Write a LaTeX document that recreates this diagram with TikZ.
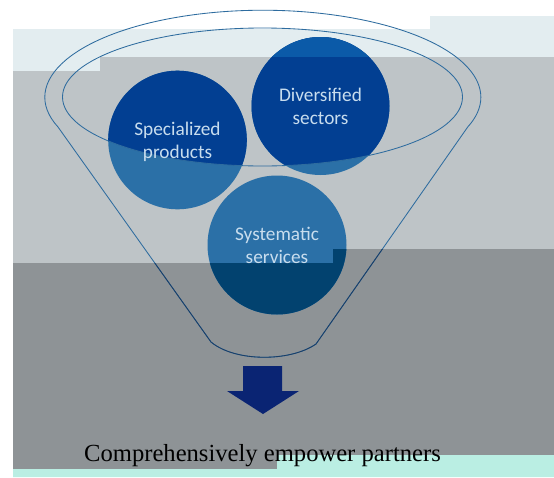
\documentclass[tikz,border=0pt]{standalone}
\usepackage{fontspec}
\setmainfont{Liberation Serif}
\newfontfamily\calib{Carlito}
\definecolor{cyanband}{HTML}{E3EDF0}
\definecolor{greyband}{HTML}{BEC4C7}
\definecolor{darkband}{HTML}{8E9396}
\definecolor{mintband}{HTML}{BAEEE3}
\definecolor{midblue}{HTML}{2B70A7}
\definecolor{deepblue}{HTML}{02426F}
\definecolor{navyblue}{HTML}{023F92}
\definecolor{brightblue}{HTML}{0B5AA8}
\definecolor{lbltext}{HTML}{C8DDEE}
\definecolor{linelight}{HTML}{2E6C9F}
\definecolor{linedark}{HTML}{1B3E66}
\definecolor{arrowblue}{HTML}{0A2473}
\begin{document}
\begin{tikzpicture}[x=1pt,y=-1pt,
  outline/.style={draw=linelight, line width=0.85pt},
  outlinedark/.style={draw=linedark, line width=0.85pt},
  lbl/.style={circle, minimum size=139pt, inner sep=0pt, text=lbltext,
    font=\calib\fontsize{19.3}{22.5}\selectfont},
  caption/.style={anchor=base west, inner sep=0pt, text=black,
    font=\fontsize{24.6}{29}\selectfont}]
\useasboundingbox (0,0) rectangle (554,477);
\fill[white] (0,0) rectangle (554,477);
% background bands
\fill[cyanband] (13,29) -- (430,29) -- (430,16) -- (554,16) -- (554,57) -- (100,57) -- (100,71) -- (13,71) -- cycle;
\fill[greyband] (13,71) -- (100,71) -- (100,57) -- (554,57) -- (554,249) -- (333,249) -- (333,263) -- (13,263) -- cycle;
\fill[darkband] (13,263) -- (333,263) -- (333,249) -- (554,249) -- (554,455) -- (277,455) -- (277,469) -- (13,469) -- cycle;
\fill[mintband] (13,469) -- (277,469) -- (277,455) -- (554,455) -- (554,477) -- (13,477) -- cycle;
% circles
\fill[midblue] (177.5,140) circle[radius=69.3] (320.5,106) circle[radius=69] (277,245) circle[radius=69.5];
\begin{scope}
  \clip (177.5,140) circle[radius=69.3] (320.5,106) circle[radius=69] (277,245) circle[radius=69.5];
  \fill[deepblue] (0,263) -- (333,263) -- (333,249) -- (554,249) -- (554,477) -- (0,477) -- cycle;
  \begin{scope}
    \clip (262.5,97) ellipse[x radius=200, y radius=69];
    \fill[navyblue] (0,0) rectangle (554,477);
    \fill[brightblue] (0,0) rectangle (554,57);
  \end{scope}
\end{scope}
% funnel outline
\path[save path=\funnelpath] (211,342) -- (58,127)
  arc[start angle=160, end angle=380, x radius=218, y radius=87]
  -- (316,344) .. controls (290,362) and (235,362) .. (211,342) -- cycle;
\draw[outline, use path=\funnelpath];
\begin{scope}
  \clip (0,263) -- (333,263) -- (333,249) -- (554,249) -- (554,477) -- (0,477) -- cycle;
  \draw[outlinedark, use path=\funnelpath];
\end{scope}
\draw[outline] (262.5,97) ellipse[x radius=200, y radius=69];
% labels
\node[lbl] (spec) at (177.5,142.5) {\begin{tabular}[t]{c}Specialized\\products\end{tabular}};
\node[lbl] (div) at (320.5,108.5) {\begin{tabular}[t]{c}Diversified\\sectors\end{tabular}};
\node[lbl] (sys) at (277,247.5) {\begin{tabular}[t]{c}Systematic\\services\end{tabular}};
% arrow
\fill[arrowblue] (243,366) -- (282,366) -- (282,391) -- (299,391) -- (263,414) -- (227,391) -- (243,391) -- cycle;
\node[caption] (cap) at (84,461) {Comprehensively empower partners};
\end{tikzpicture}
\end{document}
